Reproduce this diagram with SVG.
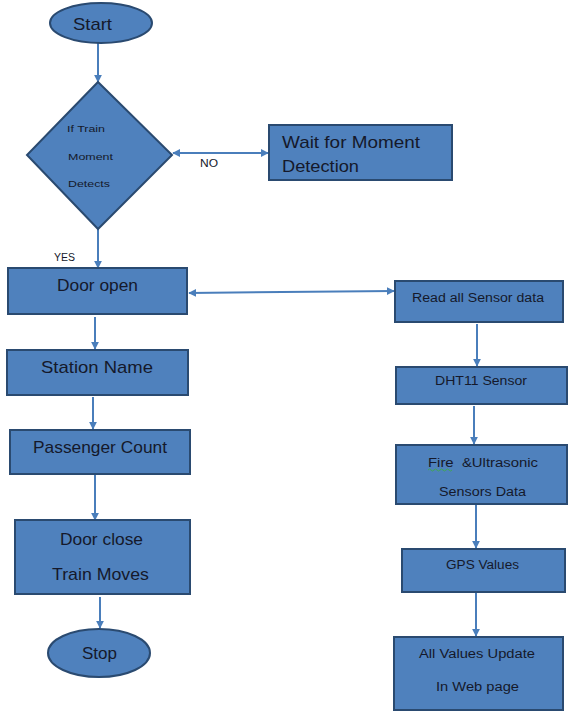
<svg xmlns="http://www.w3.org/2000/svg" width="568" height="711" viewBox="0 0 568 711">
<defs>
<marker id="ah" viewBox="0 0 10 10" refX="9" refY="5" markerWidth="8" markerHeight="8" markerUnits="userSpaceOnUse" orient="auto-start-reverse">
<path d="M0,0 L10,5 L0,10 z" fill="#4A7EBB"/>
</marker>
<style>
.n{fill:#4F81BD;stroke:#2A4A70;stroke-width:2}
.t{font-family:"Liberation Sans",Arial,sans-serif;fill:#15192B}
.c{stroke:#4A7EBB;stroke-width:2;fill:none}
</style>
</defs>
<rect width="568" height="711" fill="#ffffff"/>
<g id="connectors">
<line class="c" x1="98" y1="43" x2="98" y2="82" marker-end="url(#ah)"/>
<line class="c" x1="173" y1="153" x2="268" y2="153" marker-start="url(#ah)" marker-end="url(#ah)"/>
<line class="c" x1="98" y1="229" x2="98" y2="268" marker-end="url(#ah)"/>
<line class="c" x1="189" y1="293" x2="394" y2="291" marker-start="url(#ah)" marker-end="url(#ah)"/>
<line class="c" x1="95" y1="317" x2="95" y2="349" marker-end="url(#ah)"/>
<line class="c" x1="93" y1="397" x2="93" y2="429" marker-end="url(#ah)"/>
<line class="c" x1="95" y1="474" x2="95" y2="520" marker-end="url(#ah)"/>
<line class="c" x1="100" y1="597" x2="100" y2="628" marker-end="url(#ah)"/>
<line class="c" x1="477" y1="324" x2="477" y2="366" marker-end="url(#ah)"/>
<line class="c" x1="474" y1="406" x2="474" y2="444" marker-end="url(#ah)"/>
<line class="c" x1="476" y1="505" x2="476" y2="548" marker-end="url(#ah)"/>
<line class="c" x1="476" y1="593" x2="476" y2="636" marker-end="url(#ah)"/>
<text class="t" x="200" y="167" font-size="10" textLength="18" lengthAdjust="spacingAndGlyphs">NO</text>
<text class="t" x="54" y="261" font-size="10" textLength="21" lengthAdjust="spacingAndGlyphs">YES</text>
</g>
<g id="start">
<ellipse class="n" cx="101" cy="23" rx="51" ry="20"/>
<text class="t" x="73" y="30" font-size="17" textLength="39" lengthAdjust="spacingAndGlyphs">Start</text>
</g>
<g id="decision">
<polygon class="n" points="98,82 172,155 98,229 27,155"/>
<text class="t" x="67" y="132" font-size="9" textLength="38" lengthAdjust="spacingAndGlyphs">If Train</text>
<text class="t" x="68" y="160" font-size="9" textLength="45" lengthAdjust="spacingAndGlyphs">Moment</text>
<text class="t" x="68" y="187" font-size="9" textLength="42" lengthAdjust="spacingAndGlyphs">Detects</text>
</g>
<g id="wait">
<rect class="n" x="269" y="125" width="183" height="55"/>
<text class="t" x="282" y="148" font-size="17" textLength="138" lengthAdjust="spacingAndGlyphs">Wait for Moment</text>
<text class="t" x="282" y="172" font-size="17" textLength="77" lengthAdjust="spacingAndGlyphs">Detection</text>
</g>
<g id="door-open">
<rect class="n" x="8" y="268" width="179" height="46"/>
<text class="t" x="57" y="291" font-size="17" textLength="81" lengthAdjust="spacingAndGlyphs">Door open</text>
</g>
<g id="station-name">
<rect class="n" x="7" y="350" width="181" height="45"/>
<text class="t" x="41" y="373" font-size="17" textLength="112" lengthAdjust="spacingAndGlyphs">Station Name</text>
</g>
<g id="passenger-count">
<rect class="n" x="10" y="430" width="180" height="44"/>
<text class="t" x="33" y="453" font-size="17" textLength="134" lengthAdjust="spacingAndGlyphs">Passenger Count</text>
</g>
<g id="door-close">
<rect class="n" x="15" y="520" width="175" height="74"/>
<text class="t" x="60" y="545" font-size="17" textLength="83" lengthAdjust="spacingAndGlyphs">Door close</text>
<text class="t" x="52" y="580" font-size="17" textLength="97" lengthAdjust="spacingAndGlyphs">Train Moves</text>
</g>
<g id="stop">
<ellipse class="n" cx="99" cy="653" rx="51" ry="24"/>
<text class="t" x="82" y="659" font-size="17" textLength="35" lengthAdjust="spacingAndGlyphs">Stop</text>
</g>
<g id="read-sensor">
<rect class="n" x="395" y="281" width="168" height="41"/>
<text class="t" x="412" y="302" font-size="12" textLength="132" lengthAdjust="spacingAndGlyphs">Read all Sensor data</text>
</g>
<g id="dht11">
<rect class="n" x="396" y="367" width="171" height="37"/>
<text class="t" x="435" y="385" font-size="12" textLength="92" lengthAdjust="spacingAndGlyphs">DHT11 Sensor</text>
</g>
<g id="fire-ultrasonic">
<rect class="n" x="396" y="445" width="171" height="59"/>
<text class="t" x="428" y="467" font-size="12" textLength="110" lengthAdjust="spacingAndGlyphs" style="white-space:pre">Fire  &amp;Ultrasonic</text>
<path d="M428,470 q1.5,-2 3,0 t3,0 t3,0 t3,0 t3,0 t3,0 t3,0 t3,0" stroke="#3cae3c" stroke-width="0.8" fill="none"/>
<text class="t" x="439" y="496" font-size="12" textLength="87" lengthAdjust="spacingAndGlyphs">Sensors Data</text>
</g>
<g id="gps">
<rect class="n" x="402" y="549" width="163" height="43"/>
<text class="t" x="446" y="569" font-size="12" textLength="73" lengthAdjust="spacingAndGlyphs">GPS Values</text>
</g>
<g id="web-update">
<rect class="n" x="394" y="637" width="169" height="73"/>
<text class="t" x="419" y="658" font-size="12" textLength="116" lengthAdjust="spacingAndGlyphs">All Values Update</text>
<text class="t" x="436" y="691" font-size="12" textLength="83" lengthAdjust="spacingAndGlyphs">In Web page</text>
</g>
</svg>
